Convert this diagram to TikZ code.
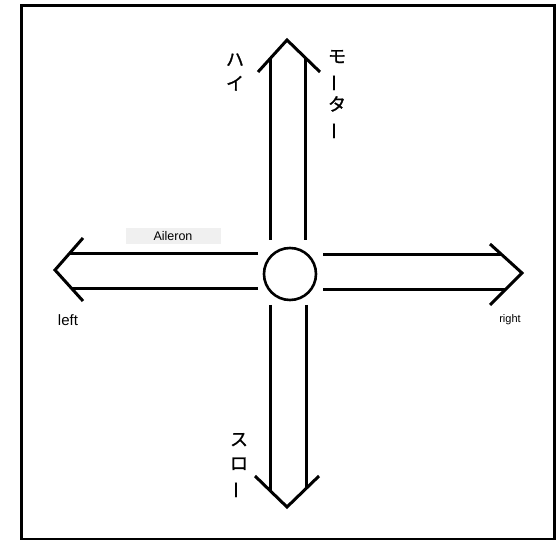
\documentclass[tikz,border=0pt]{standalone}
\usepackage{fontspec}
\setmainfont{Liberation Sans}
\newfontfamily\cjk[FakeBold=1.2]{Noto Sans CJK JP}
\usepackage{graphicx}
\newcommand{\vbar}{\rotatebox[origin=c]{90}{ー}}
\begin{document}
\begin{tikzpicture}[x=1pt,y=-1pt,
  arr/.style={line width=3pt,line cap=butt,line join=miter},
  jp/.style={font=\cjk\fontsize{18pt}{24pt}\selectfont,align=center,inner sep=0pt},
  lab/.style={inner sep=0pt}]
\useasboundingbox (0,0) rectangle (558,540);
\node[draw,line width=3.2pt,minimum width=533pt,minimum height=534pt,inner sep=0pt,anchor=north west] (frame) at (20,4) {};
% centre circle
\node[circle,draw,line width=2.6pt,minimum size=52pt,inner sep=0pt] (c) at (290,274) {};
% up arrow
\coordinate (ut) at (287,40);
\draw[arr] (258,72) -- (ut) -- (320,72);
\draw[arr] (270,240) -- (270,58.8);
\draw[arr] (305,240) -- (305,57.5);
% down arrow
\coordinate (dt) at (287,507);
\draw[arr] (255,476) -- (dt) -- (319,476);
\draw[arr] (270,305) -- (270,490.5);
\draw[arr] (306,305) -- (306,488.6);
% left arrow
\coordinate (lt) at (55,270);
\draw[arr] (83,238) -- (lt) -- (83,301);
\draw[arr] (258,254) -- (69,254);
\draw[arr] (258,289) -- (72.2,289);
% right arrow
\coordinate (rt) at (522,273);
\draw[arr] (490,244) -- (rt) -- (490,305);
\draw[arr] (323,255) -- (502,255);
\draw[arr] (323,290) -- (505,290);
% labels
\node[jp] (hai) at (235,72) {ハ\\イ};
\node[jp] (motor) at (337,95) {モ\\\vbar\\タ\\\vbar};
\node[jp] (slow) at (239,466) {ス\\ロ\\\vbar};
\fill[black!6] (126,228) rectangle (221,244);
\node[lab,font=\fontsize{12.5pt}{14pt}\selectfont] (ail) at (173,236) {Aileron};
\node[lab,font=\fontsize{15pt}{17pt}\selectfont] (left) at (68,320) {left};
\node[lab,font=\fontsize{11pt}{13pt}\selectfont] (right) at (510,320) {right};
\end{tikzpicture}
\end{document}
